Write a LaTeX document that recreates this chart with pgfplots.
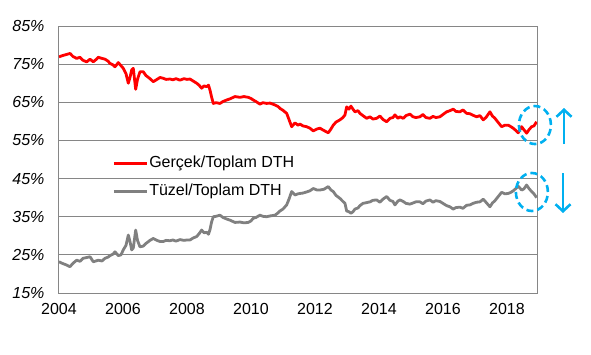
\documentclass[border=0pt]{standalone}
\usepackage{fontspec}
\setmainfont{Liberation Sans}
\usepackage{pgfplots}
\pgfplotsset{compat=1.18}
\usetikzlibrary{arrows.meta}
\definecolor{gridgray}{RGB}{134,134,134}
\definecolor{linegray}{RGB}{128,128,128}
\definecolor{annblue}{RGB}{0,176,240}
\begin{document}
\begin{tikzpicture}
\begin{axis}[
  scale only axis, width=478pt, height=267pt,
  xmin=2004, xmax=2018.94, ymin=15, ymax=85,
  enlargelimits=false,
  xtick={2004,2006,...,2018},
  ytick={15,25,...,85},
  /pgf/number format/assume math mode=true,
  /pgf/number format/1000 sep={},
  yticklabel={\itshape\pgfmathprintnumber{\tick}\%},
  tick label style={font=\fontsize{16}{19}\selectfont},
  yticklabel style={xshift=-11pt},
  xticklabel style={yshift=-7pt},
  major tick length=0pt,
  ymajorgrids,
  grid style={gridgray, line width=1pt},
  axis line style={gridgray, line width=1pt},
  legend cell align=left,
  legend style={at={(0.111,0.52)}, anchor=north west, draw=none, fill=none,
    font=\fontsize{16}{19}\selectfont, row sep=10pt, inner sep=0pt,
    nodes={inner sep=1pt, text height=12pt, text depth=4pt}},
  legend image code/.code={\draw[#1, line width=3pt] (0pt,0pt) -- (33pt,0pt);},
]
\addplot[red, line width=2.8pt, line join=round] coordinates {
(2004.000,76.9)(2004.094,77.2)(2004.219,77.5)(2004.344,77.8)(2004.438,77.0)
(2004.553,76.5)(2004.656,76.8)(2004.750,76.0)(2004.866,75.6)(2004.969,76.3)
(2005.072,75.6)(2005.156,76.2)(2005.228,76.8)(2005.344,76.5)(2005.438,76.3)
(2005.531,75.8)(2005.594,75.2)(2005.688,74.8)(2005.750,74.3)(2005.853,75.4)
(2005.938,74.6)(2006.009,73.9)(2006.094,72.5)(2006.166,70.0)(2006.219,71.5)
(2006.272,73.5)(2006.322,73.9)(2006.397,68.4)(2006.453,71.0)(2006.531,73.0)
(2006.634,73.0)(2006.719,72.0)(2006.844,71.2)(2006.947,70.4)(2007.063,71.0)
(2007.156,71.5)(2007.259,71.3)(2007.344,71.0)(2007.469,71.1)(2007.563,70.9)
(2007.656,71.2)(2007.781,70.8)(2007.906,71.2)(2008.000,71.0)(2008.094,71.1)
(2008.188,70.6)(2008.303,70.0)(2008.375,69.5)(2008.459,68.7)(2008.531,69.3)
(2008.616,69.1)(2008.672,69.5)(2008.719,68.2)(2008.766,66.5)(2008.822,64.7)
(2008.906,64.9)(2009.031,64.7)(2009.125,65.2)(2009.241,65.6)(2009.344,65.9)
(2009.500,66.5)(2009.656,66.3)(2009.781,66.5)(2009.916,66.3)(2010.000,66.0)
(2010.072,65.6)(2010.156,65.2)(2010.281,64.5)(2010.375,64.9)(2010.491,64.7)
(2010.594,64.8)(2010.750,64.3)(2010.844,63.9)(2010.906,63.4)(2011.000,62.9)
(2011.116,62.1)(2011.188,60.5)(2011.272,58.6)(2011.375,59.6)(2011.469,59.0)
(2011.531,59.3)(2011.625,58.8)(2011.741,58.6)(2011.844,58.2)(2011.947,57.5)
(2012.063,58.0)(2012.156,58.2)(2012.281,57.6)(2012.416,57.0)(2012.500,58.0)
(2012.572,59.0)(2012.656,59.8)(2012.781,60.4)(2012.875,61.0)(2012.938,61.7)
(2012.991,63.8)(2013.063,63.2)(2013.125,64.0)(2013.188,63.2)(2013.250,62.5)
(2013.344,62.8)(2013.406,62.1)(2013.500,61.5)(2013.616,60.8)(2013.719,61.2)
(2013.813,60.6)(2013.928,60.8)(2014.031,61.4)(2014.125,60.5)(2014.241,59.9)
(2014.344,60.8)(2014.438,61.0)(2014.500,61.7)(2014.594,60.8)(2014.656,61.2)
(2014.759,60.8)(2014.844,61.5)(2014.969,61.9)(2015.063,61.2)(2015.156,61.0)
(2015.281,61.2)(2015.375,61.8)(2015.469,61.0)(2015.594,60.8)(2015.688,61.3)
(2015.781,61.0)(2015.906,61.2)(2016.000,61.8)(2016.116,62.5)(2016.219,62.8)
(2016.322,63.2)(2016.406,62.6)(2016.531,62.5)(2016.625,63.0)(2016.741,62.1)
(2016.844,62.0)(2016.938,61.6)(2017.053,61.2)(2017.156,61.5)(2017.259,60.4)
(2017.344,61.0)(2017.469,62.5)(2017.547,61.4)(2017.625,60.8)(2017.719,59.8)
(2017.834,58.6)(2017.938,59.0)(2018.041,59.0)(2018.125,58.6)(2018.197,58.2)
(2018.281,57.6)(2018.353,57.0)(2018.459,58.6)(2018.531,57.8)(2018.616,56.9)
(2018.688,57.8)(2018.772,58.6)(2018.844,58.8)(2018.928,59.9)
};
\addlegendentry{Gerçek/Toplam DTH}
\addplot[linegray, line width=2.8pt, line join=round] coordinates {
(2004.000,23.2)(2004.094,22.8)(2004.219,22.4)(2004.344,21.9)(2004.438,22.8)
(2004.553,23.6)(2004.656,23.3)(2004.750,24.1)(2004.866,24.3)(2004.969,24.5)
(2005.072,23.2)(2005.156,23.4)(2005.228,23.6)(2005.344,23.4)(2005.438,24.1)
(2005.531,24.4)(2005.594,24.8)(2005.688,25.2)(2005.750,25.8)(2005.853,24.8)
(2005.938,25.0)(2006.009,26.3)(2006.094,27.5)(2006.166,30.2)(2006.219,28.5)
(2006.272,26.3)(2006.322,26.8)(2006.397,31.5)(2006.453,28.8)(2006.531,27.1)
(2006.634,27.3)(2006.719,28.0)(2006.844,28.8)(2006.947,29.3)(2007.063,28.8)
(2007.156,28.5)(2007.259,28.5)(2007.344,28.8)(2007.469,28.7)(2007.563,28.9)
(2007.656,28.6)(2007.781,29.0)(2007.906,28.8)(2008.000,28.9)(2008.094,28.9)
(2008.188,29.4)(2008.303,29.8)(2008.375,30.5)(2008.459,31.5)(2008.531,30.8)
(2008.616,30.9)(2008.672,30.4)(2008.719,31.6)(2008.766,33.5)(2008.822,35.0)
(2008.906,35.1)(2009.031,35.4)(2009.125,34.8)(2009.241,34.4)(2009.344,34.1)
(2009.500,33.5)(2009.656,33.6)(2009.781,33.4)(2009.916,33.5)(2010.000,33.9)
(2010.072,34.6)(2010.156,34.8)(2010.281,35.4)(2010.375,35.1)(2010.491,35.0)
(2010.594,35.2)(2010.750,35.4)(2010.844,36.0)(2010.906,36.5)(2011.000,37.0)
(2011.116,38.1)(2011.188,39.6)(2011.272,41.6)(2011.375,40.7)(2011.469,41.0)
(2011.531,41.1)(2011.625,41.2)(2011.741,41.5)(2011.844,41.8)(2011.947,42.4)
(2012.063,42.0)(2012.156,42.0)(2012.281,42.2)(2012.416,42.9)(2012.500,42.0)
(2012.572,41.6)(2012.656,40.6)(2012.781,39.8)(2012.875,39.0)(2012.938,38.5)
(2012.991,36.5)(2013.063,36.3)(2013.125,35.9)(2013.188,36.3)(2013.250,37.0)
(2013.344,37.3)(2013.406,37.9)(2013.500,38.5)(2013.616,38.7)(2013.719,38.9)
(2013.813,39.3)(2013.928,39.4)(2014.031,38.8)(2014.125,39.6)(2014.241,40.3)
(2014.344,39.3)(2014.438,39.0)(2014.500,38.1)(2014.594,39.1)(2014.656,39.4)
(2014.759,39.0)(2014.844,38.5)(2014.969,38.3)(2015.063,38.6)(2015.156,38.9)
(2015.281,38.9)(2015.375,38.4)(2015.469,39.1)(2015.594,39.4)(2015.688,38.8)
(2015.781,39.2)(2015.906,39.0)(2016.000,38.5)(2016.116,37.9)(2016.219,37.6)
(2016.322,37.0)(2016.406,37.4)(2016.531,37.5)(2016.625,37.2)(2016.741,38.0)
(2016.844,38.1)(2016.938,38.5)(2017.053,38.8)(2017.156,38.9)(2017.259,39.6)
(2017.344,38.8)(2017.469,37.6)(2017.547,38.6)(2017.625,39.2)(2017.719,40.2)
(2017.834,41.4)(2017.938,41.0)(2018.041,41.1)(2018.125,41.4)(2018.197,41.8)
(2018.281,42.4)(2018.353,43.0)(2018.459,42.0)(2018.531,42.3)(2018.616,43.3)
(2018.688,42.4)(2018.772,41.6)(2018.844,41.0)(2018.928,40.0)
};
\addlegendentry{Tüzel/Toplam DTH}
\coordinate (O) at (rel axis cs:0,0);
\coordinate (E1) at (axis cs:2018.875,59.04);
\coordinate (E2) at (axis cs:2018.78,41.48);
\end{axis}
\draw[annblue, line width=2.6pt, dash pattern=on 7pt off 4pt] (E1) ellipse [x radius=16pt, y radius=19pt];
\draw[annblue, line width=2.6pt, dash pattern=on 7pt off 4pt] (E2) ellipse [x radius=16pt, y radius=19pt];
\draw[annblue, line width=2.6pt, -{Straight Barb[length=7pt, width=15pt]}, shift={(O)}] (505pt,149pt) -- (505pt,185pt);
\draw[annblue, line width=2.6pt, -{Straight Barb[length=7pt, width=15pt]}, shift={(O)}] (504pt,120pt) -- (504pt,80pt);
\pgfresetboundingbox
\path[use as bounding box] ([shift={(-59pt,-61pt)}]O) rectangle ([shift={(532pt,293pt)}]O);
\end{tikzpicture}
\end{document}
